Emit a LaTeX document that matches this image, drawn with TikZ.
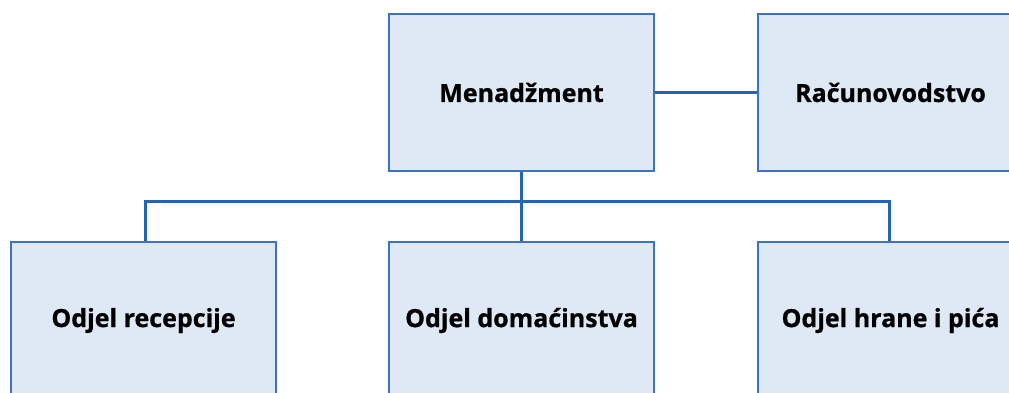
\documentclass[tikz,border=0pt]{standalone}
\usepackage{fontspec}
\setmainfont{Open Sans}
\newfontfamily\boxfont{Open Sans}[BoldFeatures={FakeBold=0.8}]
\definecolor{boxfill}{HTML}{DFE9F5}
\definecolor{boxline}{HTML}{3C72C4}
\definecolor{conn}{HTML}{2563B8}
\begin{document}
\begin{tikzpicture}[x=1pt,y=-1pt,
  orgbox/.style={draw=boxline, fill=boxfill, line width=2pt, minimum width=265pt, minimum height=157pt, inner sep=0pt, anchor=north west, font=\boxfont\fontsize{25}{30}\selectfont\bfseries, text=black},
  link/.style={draw=conn, line width=3pt}]
\useasboundingbox (0,0) rectangle (1009,392);
\clip (0,0) rectangle (1009,392);
\node[orgbox] (men) at (388,13) {Menadžment};
\node[orgbox] (rac) at (757,13) {Računovodstvo};
\node[orgbox] (rec) at (10,241) {Odjel recepcije};
\node[orgbox] (dom) at (388,241) {Odjel domaćinstva};
\node[orgbox] (hra) at (757,241) {Odjel hrane i pića};
\coordinate (bus) at (521,201);
\draw[link] (men.east) -- (rac.west);
\draw[link] (men.south -| bus) -- (bus);
\draw[link] (rec.north -| 145,0) |- (bus) -| (hra.north -| 889,0);
\draw[link] (bus) -- (dom.north -| bus);
\end{tikzpicture}
\end{document}
